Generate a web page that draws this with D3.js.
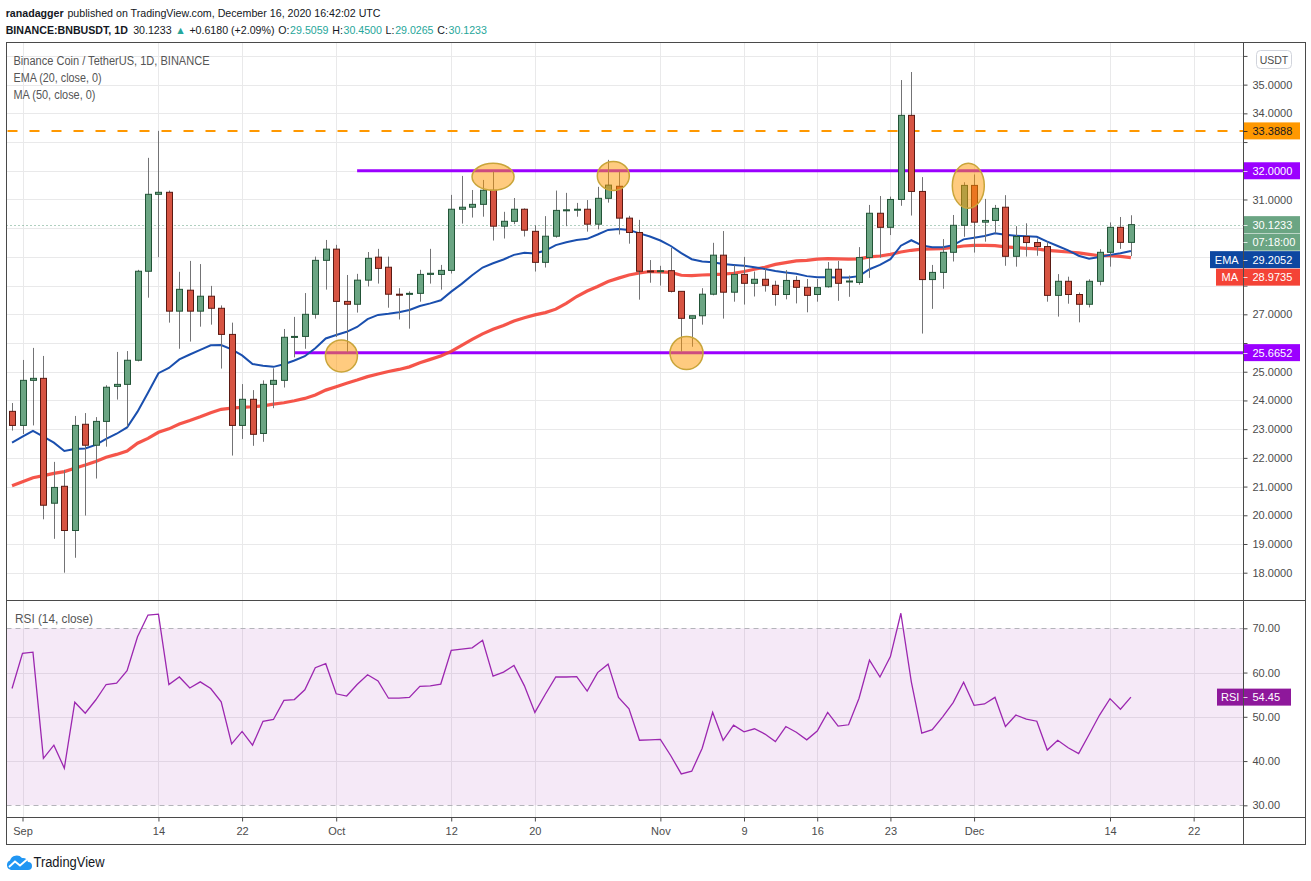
<!DOCTYPE html>
<html>
<head>
<meta charset="utf-8">
<script src="https://cdn.jsdelivr.net/npm/d3@7"></script>
<style>
  body { margin: 0; background: #fff; }
  svg { display: block; font-family: "Liberation Sans", Arial, sans-serif; }
</style>
</head>
<body>
<svg id="chart" width="1311" height="881"></svg>
<script>
// BNB/USDT daily, Aug 31 - Dec 16 2020
const firstDay = new Date(Date.UTC(2020, 7, 31));

const opens = [23.62,23.13,24.70,24.77,20.42,21.01,19.47,23.17,22.44,23.27,
  24.49,24.56,25.40,28.50,31.18,31.25,27.11,27.84,27.11,27.63,
  27.21,26.30,23.13,24.04,22.85,24.56,24.70,26.20,26.23,27.00,
  28.88,29.27,27.45,27.35,28.19,28.99,28.64,27.70,27.70,27.73,
  28.39,28.39,28.53,30.66,30.73,30.83,31.32,30.07,30.24,30.66,
  29.89,28.81,29.72,30.62,30.64,30.66,30.14,31.04,31.46,30.35,
  29.85,28.51,28.50,28.52,27.80,26.86,26.95,27.70,29.06,27.77,
  28.39,28.08,28.22,28.01,27.69,28.18,27.94,27.69,27.96,28.57,
  28.14,28.11,28.98,30.52,30.03,31.00,33.93,31.28,28.21,28.46,
  29.16,30.10,31.49,30.21,30.27,30.73,29.02,29.71,29.50,29.36,
  27.66,28.15,27.69,27.35,28.15,29.16,30.03,29.5059];

const highs = [23.91,25.41,25.83,25.55,21.86,21.58,23.46,23.56,23.42,24.53,
  25.69,25.72,28.55,32.45,33.39,31.31,28.48,28.86,28.75,27.99,
  27.31,26.71,24.57,24.36,24.70,25.12,26.49,26.91,27.74,29.01,
  29.59,29.42,28.37,28.41,29.17,29.28,29.01,27.91,27.80,28.55,
  29.28,28.72,31.16,31.82,31.33,31.68,31.97,30.57,31.05,30.69,
  30.10,30.42,31.31,31.23,30.88,30.98,31.44,32.38,31.97,30.43,
  30.29,28.89,28.69,29.31,27.80,26.95,27.91,29.49,29.90,28.71,
  29.00,28.49,28.60,28.17,28.54,28.33,28.23,28.23,28.82,28.86,
  28.35,29.34,30.81,31.12,31.10,35.16,35.44,31.78,28.72,29.62,
  30.46,31.60,31.87,31.02,30.81,31.15,30.07,30.17,29.64,29.53,
  28.40,28.31,27.76,28.22,29.27,30.20,30.39,30.45];

const lows = [22.95,22.83,23.13,19.86,19.18,18.00,18.52,19.99,21.28,22.39,
  24.03,23.09,25.36,27.58,28.99,26.71,25.80,26.05,26.57,26.64,
  25.11,22.08,22.66,22.42,22.56,23.73,24.45,25.50,25.80,26.85,
  27.86,26.21,25.68,27.06,27.97,28.07,27.23,26.82,26.50,27.44,
  28.07,27.86,28.42,30.16,30.37,30.40,29.57,29.64,30.14,29.71,
  28.49,28.63,29.67,30.07,30.40,29.88,29.96,30.89,29.78,29.46,
  27.51,28.10,28.00,27.76,25.70,25.87,26.64,27.66,26.85,27.44,
  27.34,27.62,27.79,27.30,27.52,27.38,27.07,27.44,27.93,27.47,
  27.61,28.03,28.27,28.97,29.76,30.78,30.44,26.33,27.19,27.89,
  28.84,29.70,29.15,29.53,29.82,28.69,28.66,29.01,29.04,27.44,
  26.92,27.37,26.72,27.24,28.01,28.66,29.28,29.0265];

const closes = [23.13,24.70,24.77,20.35,20.97,19.47,23.13,22.44,23.27,24.46,
  24.56,25.40,28.50,31.18,31.25,27.11,27.87,27.11,27.63,27.21,
  26.30,23.13,24.04,22.82,24.56,24.70,26.20,26.23,27.00,28.88,
  29.27,27.45,27.35,28.19,28.95,28.60,27.70,27.69,27.73,28.39,
  28.43,28.53,30.66,30.73,30.83,31.32,30.07,30.24,30.66,29.93,
  28.81,29.72,30.62,30.64,30.66,30.14,31.04,31.50,30.35,29.85,
  28.50,28.49,28.52,27.80,26.86,26.95,27.70,29.06,27.77,28.39,
  28.08,28.22,28.01,27.69,28.18,27.94,27.66,27.93,28.57,28.08,
  28.16,28.98,30.52,30.03,31.00,33.93,31.28,28.21,28.46,29.16,
  30.10,31.49,30.21,30.27,30.69,29.02,29.71,29.50,29.36,27.66,
  28.15,27.69,27.35,28.15,29.16,30.03,29.5059,30.1233];

const ema20 = [22.53,22.74,22.94,22.74,22.53,22.24,22.31,22.33,22.45,22.66,
  22.84,23.06,23.61,24.27,24.95,25.13,25.43,25.60,25.76,25.92,
  25.93,25.78,25.57,25.27,25.21,25.17,25.26,25.39,25.54,25.82,
  26.16,26.28,26.39,26.56,26.83,26.98,27.02,27.07,27.15,27.29,
  27.38,27.49,27.79,28.06,28.36,28.63,28.78,28.91,29.07,29.14,
  29.12,29.22,29.41,29.51,29.59,29.63,29.78,29.94,29.97,29.94,
  29.82,29.71,29.57,29.38,29.13,28.92,28.84,28.81,28.75,28.72,
  28.69,28.64,28.58,28.51,28.46,28.41,28.33,28.29,28.29,28.28,
  28.28,28.33,28.57,28.72,28.92,29.39,29.58,29.40,29.34,29.34,
  29.41,29.61,29.67,29.73,29.82,29.77,29.74,29.72,29.70,29.53,
  29.38,29.23,29.04,28.94,29.00,29.07,29.13,29.2052];

const ma50 = [21.03,21.17,21.31,21.38,21.46,21.52,21.64,21.75,21.87,22.02,
  22.12,22.24,22.51,22.68,22.89,23.01,23.18,23.30,23.43,23.57,
  23.69,23.73,23.76,23.78,23.81,23.87,23.92,23.99,24.07,24.19,
  24.36,24.48,24.60,24.71,24.83,24.92,25.01,25.08,25.17,25.31,
  25.43,25.55,25.71,25.92,26.13,26.32,26.48,26.61,26.77,26.88,
  26.98,27.06,27.18,27.38,27.62,27.81,27.97,28.14,28.26,28.37,
  28.44,28.49,28.48,28.46,28.36,28.35,28.37,28.38,28.40,28.43,
  28.49,28.57,28.64,28.74,28.80,28.86,28.88,28.92,28.94,28.93,
  28.92,28.93,29.00,29.03,29.09,29.17,29.23,29.27,29.28,29.29,
  29.33,29.38,29.40,29.40,29.39,29.35,29.32,29.30,29.28,29.23,
  29.20,29.17,29.14,29.09,29.04,29.04,29.02,28.9735];

const rsi14 = [56.4,64.35,64.6,40.6,43.6,38.4,53.3,50.8,53.8,57.3,
  57.6,60.4,68.1,73.0,73.2,57.3,59.0,56.5,57.9,56.4,
  53.4,43.9,46.7,43.6,49.0,49.4,53.7,53.9,56.1,61.1,
  62.0,55.2,54.7,57.3,59.5,58.1,54.2,54.2,54.4,56.9,
  57.0,57.4,65.0,65.3,65.6,67.3,59.2,60.1,61.6,57.0,
  51.0,55.1,59.0,59.0,59.1,55.8,60.0,61.9,54.4,51.8,
  44.7,44.8,44.9,41.2,37.1,37.7,42.9,51.0,44.7,48.1,
  46.6,47.3,46.1,44.4,47.8,46.5,44.8,46.8,51.0,47.9,
  48.2,54.2,62.8,59.0,63.6,73.4,57.9,46.3,47.1,50.0,
  53.2,57.8,52.6,52.9,54.4,47.8,50.4,49.5,49.0,42.5,
  44.7,43.0,41.7,46.0,50.4,54.1,51.7,54.45];

const priceTicks = d3.range(18, 37);
const rsiTicks = [30, 40, 50, 60, 70];
const tickDates = ['2020-09-01','2020-09-14','2020-09-22','2020-10-01','2020-10-12','2020-10-20',
  '2020-11-01','2020-11-09','2020-11-16','2020-11-23','2020-12-01','2020-12-14','2020-12-22'];
const tickLabels = ['Sep','14','22','Oct','12','20','Nov','9','16','23','Dec','14','22'];

// drawn levels and circled spots (day offset from first candle, price)
const levelPrices = [33.3888, 32.0, 25.6652];
const levelStartDay = [-2, 33, 27.06];
const markDay = [31.5, 46, 57.5, 64.5, 91.45];
const markPrice = [25.55, 31.79, 31.82, 25.65, 31.48];

const n = closes.length;
const dayAt = k => new Date(firstDay.getTime() + k * 864e5);
const dates = closes.map((c, i) => dayAt(i));
const parseDay = d3.utcParse('%Y-%m-%d');

const svg = d3.select('#chart');
const L = 6.5, R = 1243.5, RR = 1305.5, T = 42.5, S = 600.5, B = 817.5, BB = 844.5;

const x = d3.scaleUtc()
  .domain([parseDay('2020-09-01'), parseDay('2020-12-14')])
  .range([22.5, 1110]);
const y = d3.scaleLinear().domain([17.084, 36.485]).range([599, 42]);
const yr = d3.scaleLinear().domain([27.36, 76.17]).range([817, 601]);
const px = d => Math.round(x(d)) + 0.5;

svg.append('rect').attr('width', 1311).attr('height', 881).attr('fill', '#fff');

// grid
const grid = svg.append('g').attr('stroke', '#e9e9ea');
grid.selectAll('.hg').data(priceTicks).join('line').attr('class', 'hg')
  .attr('x1', L).attr('x2', R)
  .attr('y1', d => Math.round(y(d)) + 0.5).attr('y2', d => Math.round(y(d)) + 0.5);
grid.selectAll('.rg').data([40, 50, 60]).join('line').attr('class', 'rg')
  .attr('x1', L).attr('x2', R)
  .attr('y1', d => Math.round(yr(d)) + 0.5).attr('y2', d => Math.round(yr(d)) + 0.5);
grid.selectAll('.vg').data(tickDates.map(parseDay)).join('line').attr('class', 'vg')
  .attr('x1', px).attr('x2', px).attr('y1', T).attr('y2', B);

// rsi band
svg.append('rect')
  .attr('x', L).attr('width', R - L)
  .attr('y', yr(70)).attr('height', yr(30) - yr(70))
  .attr('fill', 'rgba(156,39,176,0.1)');
svg.selectAll('.band').data([70, 30]).join('line').attr('class', 'band')
  .attr('x1', L).attr('x2', R)
  .attr('y1', d => Math.round(yr(d)) + 0.5).attr('y2', d => Math.round(yr(d)) + 0.5)
  .attr('stroke', '#b4b4ba').attr('stroke-dasharray', '5,4');

// level lines
svg.append('line')
  .attr('x1', L + 1).attr('x2', R)
  .attr('y1', y(levelPrices[0])).attr('y2', y(levelPrices[0]))
  .attr('stroke', '#ff9800').attr('stroke-width', 2).attr('stroke-dasharray', '10,12');
[1, 2].forEach(i => {
  svg.append('line')
    .attr('x1', Math.max(L, x(dayAt(levelStartDay[i])))).attr('x2', R)
    .attr('y1', y(levelPrices[i])).attr('y2', y(levelPrices[i]))
    .attr('stroke', '#9b00ff').attr('stroke-width', 3);
});

// last price dotted line
svg.append('line')
  .attr('x1', L).attr('x2', R)
  .attr('y1', Math.round(y(closes[n - 1])) + 0.5).attr('y2', Math.round(y(closes[n - 1])) + 0.5)
  .attr('stroke', '#5f9f7e').attr('stroke-dasharray', '1,3');

// moving averages
const lineFor = vals => d3.line().x((d, i) => x(dates[i])).y(d => y(d))(vals);
svg.append('path').attr('d', lineFor(ma50))
  .attr('fill', 'none').attr('stroke', '#f44336').attr('stroke-width', 3.2).attr('stroke-opacity', 0.9);
svg.append('path').attr('d', lineFor(ema20))
  .attr('fill', 'none').attr('stroke', '#1a4fae').attr('stroke-width', 2);

// candles
const candles = dates.map((d, i) => ({ d, o: opens[i], h: highs[i], l: lows[i], c: closes[i] }));
const cg = svg.append('g');
cg.selectAll('line').data(candles).join('line')
  .attr('x1', d => px(d.d)).attr('x2', d => px(d.d))
  .attr('y1', d => y(d.h)).attr('y2', d => y(d.l))
  .attr('stroke', '#737375');
cg.selectAll('rect').data(candles).join('rect')
  .attr('x', d => px(d.d) - 3).attr('width', 6)
  .attr('y', d => y(Math.max(d.o, d.c)))
  .attr('height', d => Math.max(1, Math.abs(y(d.o) - y(d.c))))
  .attr('fill', d => d.c >= d.o ? '#6ba583' : '#d75442')
  .attr('stroke', d => d.c >= d.o ? '#225437' : '#5b1a13');

// highlighted spots
const markSize = [[16, 16], [21, 13.5], [16, 14.5], [16.5, 16.5], [16, 22.5]];
svg.selectAll('.mark').data(markDay).join('ellipse').attr('class', 'mark')
  .attr('cx', d => x(dayAt(d)))
  .attr('cy', (d, i) => y(markPrice[i]))
  .attr('rx', (d, i) => markSize[i][0]).attr('ry', (d, i) => markSize[i][1])
  .attr('fill', 'rgba(255,152,0,0.5)')
  .attr('stroke', '#c9a53a').attr('stroke-width', 1.5);

// rsi line
svg.append('path')
  .attr('d', d3.line().x((d, i) => x(dates[i])).y(d => yr(d))(rsi14))
  .attr('fill', 'none').attr('stroke', '#9c27b0').attr('stroke-width', 1.3);

// frame
const frame = svg.append('g').attr('stroke', '#4a4a4a');
frame.append('rect').attr('x', L).attr('y', T).attr('width', RR - L).attr('height', BB - T).attr('fill', 'none');
frame.append('line').attr('x1', R).attr('x2', R).attr('y1', T).attr('y2', BB);
frame.append('line').attr('x1', L).attr('x2', RR).attr('y1', S).attr('y2', S);
frame.append('line').attr('x1', L).attr('x2', RR).attr('y1', B).attr('y2', B);

// axis tags: last price, countdown, EMA, MA stacked like the platform does
const lastY = y(closes[n - 1]);
const step = 17.5;
const emaY = Math.max(y(ema20[n - 1]), lastY + 2 * step);
const maY = Math.max(y(ma50[n - 1]), emaY + step);
const tagYs = [y(levelPrices[0]), y(levelPrices[1]), y(levelPrices[2]), lastY, lastY + step, emaY, maY];

// axes
function styleAxis(g) {
  g.select('.domain').remove();
  g.selectAll('line').attr('stroke', '#4a4a4a');
  g.selectAll('text').attr('fill', '#4c4c4c')
    .attr('font-family', '"Liberation Sans", Arial, sans-serif').attr('font-size', 11);
}
const yAxis = svg.append('g').attr('transform', `translate(${R},0)`)
  .call(d3.axisRight(y).tickValues(priceTicks).tickFormat(d3.format('.4f')).tickSize(4).tickPadding(5))
  .call(styleAxis);
// labels hidden behind the tags (or the currency box) are not shown
yAxis.selectAll('.tick text')
  .filter(d => y(d) < 62 || tagYs.some(t => Math.abs(t - y(d)) < 14))
  .remove();
svg.append('g').attr('transform', `translate(${R},0)`)
  .call(d3.axisRight(yr).tickValues(rsiTicks).tickFormat(d3.format('.2f')).tickSize(4).tickPadding(5))
  .call(styleAxis);
svg.append('g').attr('transform', `translate(0,${B})`)
  .call(d3.axisBottom(x).tickValues(tickDates.map(parseDay)).tickFormat((d, i) => tickLabels[i]).tickSize(4).tickPadding(6))
  .call(styleAxis);

// currency box
svg.append('rect').attr('x', 1256.5).attr('y', 50.5).attr('width', 35).attr('height', 18).attr('rx', 4)
  .attr('fill', '#fff').attr('stroke', '#d1d4dc');
svg.append('text').attr('x', 1274).attr('y', 63.5).attr('text-anchor', 'middle')
  .attr('font-size', 10.5).attr('fill', '#4c4c4c').text('USDT');

// price tags on the axis
const fmt4 = d3.format('.4f');
function tag(yc, label, fill, color, x1 = 1300) {
  svg.append('rect').attr('x', R + 0.5).attr('y', yc - 8.5).attr('width', x1 - R - 0.5).attr('height', 17).attr('fill', fill);
  svg.append('line').attr('x1', R).attr('x2', R + 4).attr('y1', Math.round(yc) + 0.5).attr('y2', Math.round(yc) + 0.5)
    .attr('stroke', color).attr('stroke-opacity', 0.8);
  svg.append('text').attr('x', 1252.5).attr('y', yc).attr('dy', '0.36em')
    .attr('font-size', 11).attr('fill', color).text(label);
}
function nameTag(yc, label, fill, x0) {
  svg.append('rect').attr('x', x0).attr('y', yc - 8.5).attr('width', R - 0.5 - x0).attr('height', 17).attr('fill', fill);
  svg.append('text').attr('x', (x0 + R) / 2).attr('y', yc).attr('dy', '0.36em').attr('text-anchor', 'middle')
    .attr('font-size', 11).attr('fill', '#fff').text(label);
}
tag(y(levelPrices[0]), fmt4(levelPrices[0]), '#ff9800', '#131722');
tag(y(levelPrices[1]), fmt4(levelPrices[1]), '#9b00ff', '#fff');
tag(y(levelPrices[2]), fmt4(levelPrices[2]), '#9b00ff', '#fff');
tag(lastY, fmt4(closes[n - 1]), '#6ba583', '#fff');
tag(lastY + step, '07:18:00', '#6ba583', '#fff');
tag(emaY, fmt4(ema20[n - 1]), '#0d47a1', '#fff');
nameTag(emaY, 'EMA', '#0d47a1', 1210);
tag(maY, fmt4(ma50[n - 1]), '#f44336', '#fff');
nameTag(maY, 'MA', '#f44336', 1216);
const rsiY = yr(rsi14[n - 1]);
tag(rsiY, d3.format('.2f')(rsi14[n - 1]), '#8e189b', '#fff', 1291);
nameTag(rsiY, 'RSI', '#8e189b', 1217);

// header: pieces laid side by side; font size chosen so the line spans the same width
function fitLine(parts, x0, baseline, target, size) {
  const els = parts.map(p => svg.append('text').attr('y', baseline).attr('font-size', size)
    .attr('fill', p[1]).attr('font-weight', p[2]).text(p[0]));
  const widths = els.map(e => e.node().getComputedTextLength());
  const gaps = parts.map(p => p[3] * size * 0.278 + 0.8);
  const f = target / (d3.sum(widths) + d3.sum(gaps));
  let cx = x0;
  els.forEach((e, i) => {
    cx += gaps[i] * f;
    e.attr('x', cx).attr('font-size', size * f);
    cx += widths[i] * f;
  });
}
const teal = '#26a69a';
const ink = '#131722';
fitLine([
  ['ranadagger', ink, 'bold', 0],
  ['published on TradingView.com, December 16, 2020 16:42:02 UTC', ink, 'normal', 1]
], 5, 17, 376, 13);
fitLine([
  ['BINANCE:BNBUSDT, 1D', ink, 'bold', 0],
  ['30.1233', ink, 'normal', 1.5],
  ['▲', teal, 'normal', 1],
  ['+0.6180 (+2.09%)', ink, 'normal', 1],
  ['O:', ink, 'normal', 1], ['29.5059', teal, 'normal', 0],
  ['H:', ink, 'normal', 1], ['30.4500', teal, 'normal', 0],
  ['L:', ink, 'normal', 1], ['29.0265', teal, 'normal', 0],
  ['C:', ink, 'normal', 1], ['30.1233', teal, 'normal', 0]
], 5, 34, 482, 13);

// pane legends
const legend = [
  ['Binance Coin / TetherUS, 1D, BINANCE', 65, 196],
  ['EMA (20, close, 0)', 82, 88],
  ['MA (50, close, 0)', 99, 82]
];
legend.forEach(l => {
  svg.append('text').attr('x', 13.5).attr('y', l[1]).attr('font-size', 12.5).attr('fill', '#555')
    .attr('textLength', l[2]).attr('lengthAdjust', 'spacingAndGlyphs').text(l[0]);
});
svg.append('text').attr('x', 15).attr('y', 623).attr('font-size', 12.5).attr('fill', '#555')
  .attr('textLength', 78).attr('lengthAdjust', 'spacingAndGlyphs').text('RSI (14, close)');

// footer logo
const logo = svg.append('g').attr('transform', 'translate(6,855)');
logo.append('path')
  .attr('d', 'M5,15 A5,5 0 0 1 4,5.5 A7,7 0 0 1 16,3 A5.5,5.5 0 0 1 22,7 A4,4 0 0 1 22,15 Z')
  .attr('fill', '#2196f3');
logo.append('path').attr('d', 'M3,12 L9,6.5 L14,10.5 L21,4.5')
  .attr('fill', 'none').attr('stroke', '#fff').attr('stroke-width', 1.8);
svg.append('text').attr('x', 33.5).attr('y', 867).attr('font-size', 14).attr('fill', ink)
  .attr('textLength', 71).attr('lengthAdjust', 'spacingAndGlyphs').text('TradingView');
</script>
</body>
</html>
